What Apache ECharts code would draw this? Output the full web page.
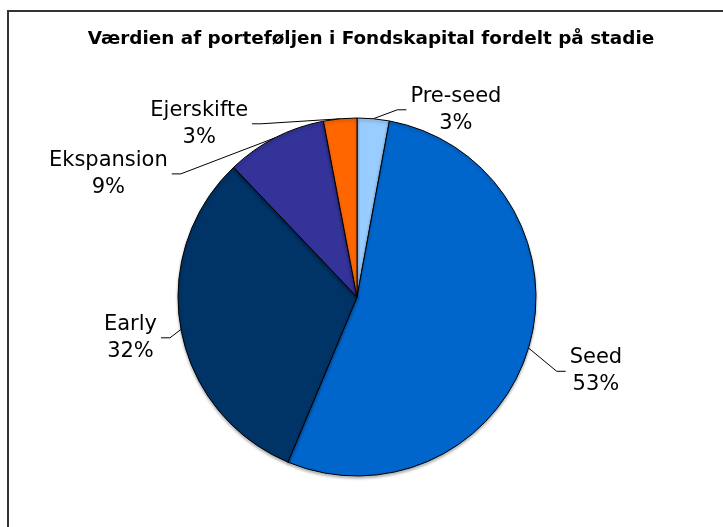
<!DOCTYPE html>
<html>
<head>
<meta charset="utf-8">
<script src="https://cdn.jsdelivr.net/npm/echarts@6/dist/echarts.min.js"></script>
<style>
  html, body { margin: 0; padding: 0; background: #fff; }
  #chart { width: 723px; height: 527px; }
</style>
</head>
<body>
<div id="chart"></div>
<script>
const TITLE = 'Værdien af porteføljen i Fondskapital fordelt på stadie'
const stages = ['Pre-seed', 'Seed', 'Early', 'Ekspansion', 'Ejerskifte']
const shares = [2.9, 53.4, 31.6, 9.1, 3.0]

const COLORS = ['#99ccff', '#0066cc', '#003366', '#333399', '#ff6600']
// radial / horizontal label line lengths per slice
const LINE_LEN = [12, 22, 2, 1, 1]
const LINE_LEN2 = [28, 12, 18, 100, 88]
// nudges so labels sit where Excel put them
const LABEL_DX = [4, 4, 0, -3, 0]
const LABEL_DY = [3, 17, 8, 37, 6]
const STUB = 9

const chart = echarts.init(document.getElementById('chart'))

const data = stages.map((name, i) => ({
  name,
  value: shares[i],
  itemStyle: { color: COLORS[i] },
  labelLine: { length: LINE_LEN[i], length2: LINE_LEN2[i] },
}))

chart.setOption({
  animation: false,
  title: {
    text: TITLE,
    left: 366,
    top: 25,
    textAlign: 'center',
    textStyle: { fontFamily: 'DejaVu Sans', fontSize: 18.4, fontWeight: 'bold', color: '#000' },
  },
  graphic: [{
    type: 'rect',
    shape: { x: 8, y: 11, width: 760, height: 560 },
    style: { fill: 'none', stroke: '#333', lineWidth: 2 },
    silent: true,
  }],
  series: [{
    type: 'pie',
    center: [357, 297],
    radius: 179,
    startAngle: 90,
    clockwise: true,
    avoidLabelOverlap: false,
    percentPrecision: 0,
    itemStyle: {
      borderColor: '#000',
      borderWidth: 1,
      shadowColor: 'rgba(0,0,0,0.3)',
      shadowBlur: 3,
      shadowOffsetY: 2,
    },
    label: {
      position: 'outside',
      distanceToLabelLine: 4,
      formatter: '{t|{b}}\n{t|{d}%}',
      rich: {
        t: { align: 'center', fontFamily: 'DejaVu Sans', fontSize: 21, lineHeight: 27, color: '#000' },
      },
    },
    labelLine: { lineStyle: { color: '#000', width: 1 } },
    labelLayout: (p) => {
      const i = p.dataIndex
      const r = p.labelRect
      const onLeft = p.align === 'right'
      const x = (onLeft ? r.x + r.width : r.x) + LABEL_DX[i]
      const y = r.y + r.height / 2 + LABEL_DY[i]
      const endX = onLeft ? x + 4 : x - 4
      const midX = onLeft ? endX + STUB : endX - STUB
      return {
        x,
        y,
        align: onLeft ? 'right' : 'left',
        verticalAlign: 'middle',
        hideOverlap: false,
        labelLinePoints: [p.labelLinePoints[0], [midX, y], [endX, y]],
      }
    },
    emphasis: { disabled: true },
    data,
  }],
})
</script>
</body>
</html>
